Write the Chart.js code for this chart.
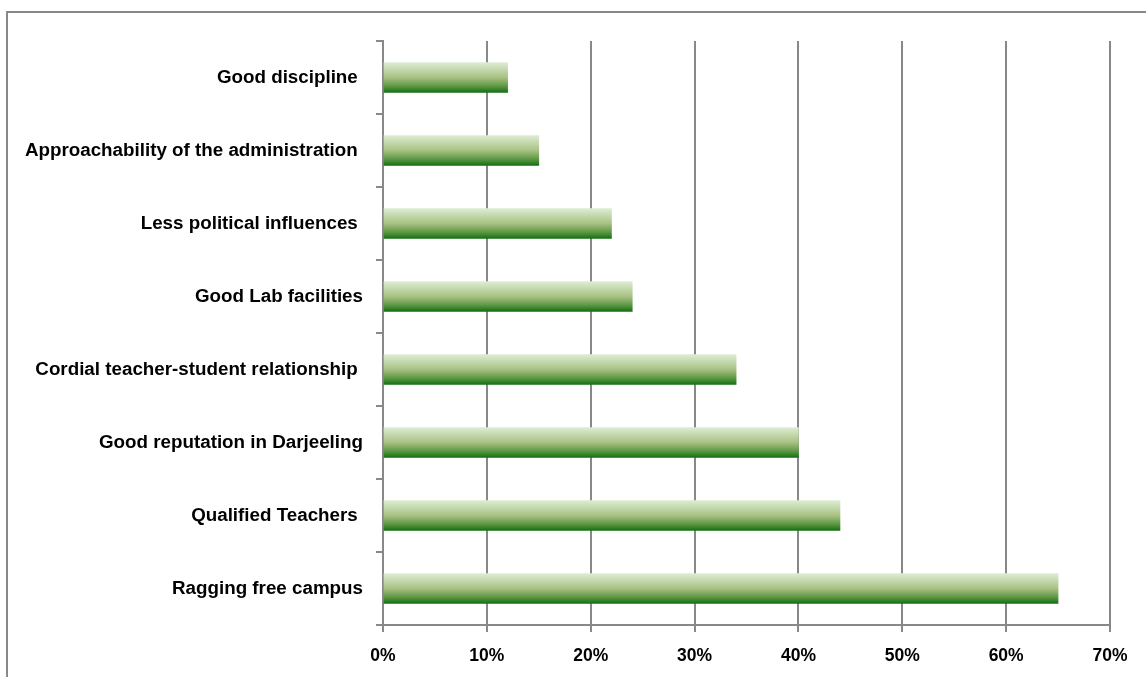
<!DOCTYPE html>
<html lang="en">
<head>
  <meta charset="UTF-8">
  <title>Reasons for choosing the college</title>
  <style>
    html, body { margin: 0; padding: 0; background: #fff; }
    #wrap { position: relative; width: 1146px; height: 677px; overflow: hidden; }
    #frame { position: absolute; left: 6px; top: 11px; width: 1200px; height: 700px; border: 2px solid #888; }
    canvas { position: absolute; left: 0; top: 0; }
  </style>
</head>
<body>
<div id="wrap">
  <div id="frame"></div>
  <canvas id="reasonChart" width="1146" height="677"></canvas>
</div>

<script src="https://cdn.jsdelivr.net/npm/chart.js@4/dist/chart.umd.min.js"></script>
<script>
  // categories, top to bottom as drawn (trailing spaces as in the original labels)
  const reasons = [
    'Good discipline ',
    'Approachability of the administration ',
    'Less political influences ',
    'Good Lab facilities',
    'Cordial teacher-student relationship ',
    'Good reputation in Darjeeling',
    'Qualified Teachers ',
    'Ragging free campus'
  ];
  const percentages = [12, 15, 22, 24, 34, 40, 44, 65];
  const xTicks = [0, 10, 20, 30, 40, 50, 60, 70];

  const gridGray = '#888888';
  const catFont = { family: 'Liberation Sans, Arial, sans-serif', size: 18.8, weight: 'bold' };
  const pctFont = { family: 'Liberation Sans, Arial, sans-serif', size: 17.5, weight: 'bold' };

  function barGradient(context) {
    const chart = context.chart;
    const yScale = chart.scales.y;
    if (!yScale || !chart.chartArea || context.dataIndex === undefined) return '#8fb070';
    const mid = yScale.getPixelForValue(context.dataIndex);
    if (!isFinite(mid)) return '#8fb070';
    const g = chart.ctx.createLinearGradient(0, mid - 15, 0, mid + 15);
    g.addColorStop(0, '#ddedd3');
    g.addColorStop(0.5, '#a8c182');
    g.addColorStop(0.8, '#5a9642');
    g.addColorStop(1, '#137013');
    return g;
  }

  const ctx = document.getElementById('reasonChart').getContext('2d');
  new Chart(ctx, {
    type: 'bar',
    data: {
      labels: reasons,
      datasets: [{
        data: percentages,
        backgroundColor: barGradient,
        borderWidth: 0,
        barThickness: 30
      }]
    },
    options: {
      indexAxis: 'y',
      responsive: false,
      animation: false,
      layout: { padding: { left: 0, right: 36, top: 41, bottom: 0 } },
      plugins: { legend: { display: false }, tooltip: { enabled: false } },
      scales: {
        x: {
          min: 0,
          max: 70,
          afterBuildTicks: scale => { scale.ticks = xTicks.map(v => ({ value: v })); },
          afterFit: scale => { scale.height = 52; },
          border: { color: gridGray, width: 2 },
          grid: { color: gridGray, lineWidth: 2, tickLength: 7 },
          ticks: {
            color: '#000',
            font: pctFont,
            padding: 14,
            maxRotation: 0,
            callback: v => v + '%'
          }
        },
        y: {
          afterFit: scale => { scale.width = 383; },
          border: { color: gridGray, width: 2 },
          grid: { color: gridGray, lineWidth: 2, tickLength: 7, drawOnChartArea: false, offset: true },
          ticks: { color: '#000', font: catFont, padding: 13, autoSkip: false }
        }
      }
    }
  });
</script>
</body>
</html>
